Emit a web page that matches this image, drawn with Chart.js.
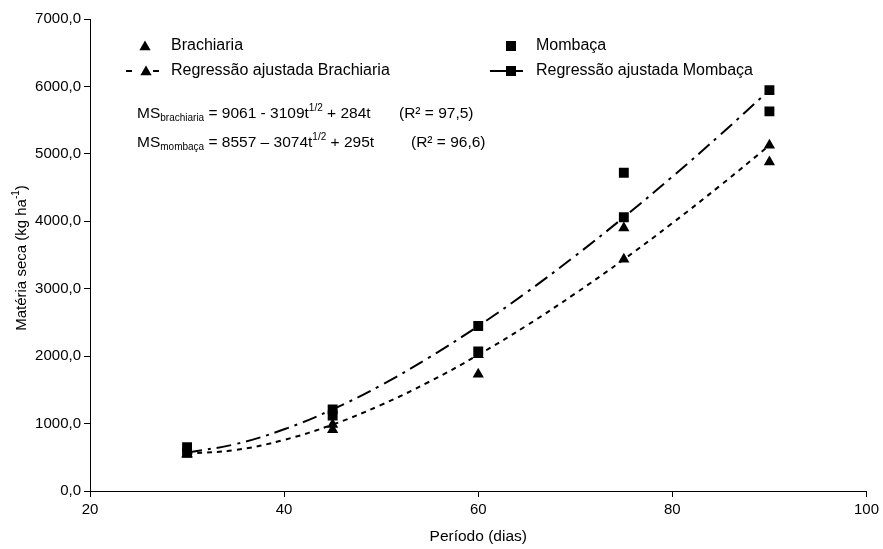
<!DOCTYPE html>
<html>
<head>
<meta charset="utf-8">
<script src="https://cdn.jsdelivr.net/npm/chart.js@4/dist/chart.umd.min.js"></script>
<style>
  html, body { margin: 0; padding: 0; background: #fff; }
  #wrap { width: 883px; height: 549px; position: relative; }
</style>
</head>
<body>
<div id="wrap"><canvas id="c" width="883" height="549"></canvas></div>
<script>
// ---- data ----
const periodo = [30, 45, 60, 75, 90];
const brachiaria = [540, 910, 1730, 3900, 4880];
const mombaca = [650, 1120, 2070, 4720, 5630];

const periodoCurva = [30, 35, 40, 45, 50, 55, 60, 65, 70, 75, 80, 85, 90];
const regBrachiaria = [552, 608, 758, 985, 1277, 1624, 2019, 2455, 2929, 3436, 3973, 4538, 5126];
const regMombaca = [570, 696, 915, 1211, 1570, 1985, 2446, 2948, 3488, 4060, 4662, 5291, 5945];

const xTicks = [20, 40, 60, 80, 100];
const yTicks = [0, 1000, 2000, 3000, 4000, 5000, 6000, 7000];

const legendLabels = ['Brachiaria', 'Mombaça', 'Regressão ajustada Brachiaria', 'Regressão ajustada Mombaça'];
const xTitle = 'Período (dias)';
const yTitle = 'Matéria seca (kg ha';

const FONT = '"Liberation Sans", Arial, sans-serif';

function pts(xs, ys) { return xs.map((x, i) => ({ x: x, y: ys[i] })); }
function markerAt(ctx) {
  const v = ctx.raw;
  return v && periodo.includes(v.x) ? 6.5 : 0;
}
function markerAtSq(ctx) {
  const v = ctx.raw;
  return v && periodo.includes(v.x) ? 7 : 0;
}

const BRA_DASH = [5, 5];
const MOM_DASH = [15, 6, 3, 6];

const overlay = {
  id: 'overlay',
  afterDraw(chart) {
    const ctx = chart.ctx;
    const ca = chart.chartArea;
    ctx.save();
    ctx.fillStyle = '#000';
    ctx.strokeStyle = '#000';

    // axis titles
    ctx.font = '15.5px ' + FONT;
    ctx.textBaseline = 'middle';
    ctx.textAlign = 'center';
    ctx.fillText(xTitle, (ca.left + ca.right) / 2, 537);

    // y title with superscript
    ctx.save();
    ctx.translate(22, 258);
    ctx.rotate(-Math.PI / 2);
    ctx.font = '15px ' + FONT;
    const w1 = ctx.measureText(yTitle).width;
    ctx.font = '10px ' + FONT;
    const w2 = ctx.measureText('-1').width;
    ctx.font = '15px ' + FONT;
    const w3 = ctx.measureText(')').width;
    let x0 = -(w1 + w2 + w3) / 2;
    ctx.textAlign = 'left';
    ctx.fillText(yTitle, x0, 0);
    ctx.font = '10px ' + FONT;
    ctx.fillText('-1', x0 + w1, -6);
    ctx.font = '15px ' + FONT;
    ctx.fillText(')', x0 + w1 + w2, 0);
    ctx.restore();

    // legend
    const drawTri = (x, y, r) => {
      ctx.beginPath();
      ctx.moveTo(x, y - r);
      ctx.lineTo(x + r * Math.sin(2 * Math.PI / 3), y - r * Math.cos(2 * Math.PI / 3));
      ctx.lineTo(x + r * Math.sin(4 * Math.PI / 3), y - r * Math.cos(4 * Math.PI / 3));
      ctx.closePath();
      ctx.fill();
    };
    const drawSq = (x, y, s) => { ctx.fillRect(x - s / 2, y - s / 2, s, s); };
    const seg = (x1, x2, y) => {
      ctx.save();
      ctx.lineWidth = 2;
      ctx.beginPath();
      ctx.moveTo(x1, y); ctx.lineTo(x2, y); ctx.stroke();
      ctx.restore();
    };
    ctx.font = '16px ' + FONT;
    ctx.textAlign = 'left';
    ctx.textBaseline = 'middle';
    const r1 = 46, r2 = 71;
    drawTri(145, r1 + 1, 6.5);
    ctx.fillText(legendLabels[0], 171, r1);
    drawSq(511, r1, 10);
    ctx.fillText(legendLabels[1], 536, r1);
    seg(126, 132, r2);
    drawTri(146, r2 + 1, 6.5);
    seg(153, 159, r2);
    ctx.fillText(legendLabels[2], 171, r2);
    seg(490, 512, r2);
    drawSq(511, r2, 10);
    seg(516, 523, r2);
    ctx.fillText(legendLabels[3], 536, r2);

    // equations
    const eq = (y, sub, a, b, rtxt, rx) => {
      let x = 137;
      ctx.font = '15.5px ' + FONT;
      ctx.fillText('MS', x, y); x += ctx.measureText('MS').width;
      ctx.font = '10px ' + FONT;
      ctx.fillText(sub, x, y + 4); x += ctx.measureText(sub).width;
      ctx.font = '15.5px ' + FONT;
      ctx.fillText(a, x, y); x += ctx.measureText(a).width;
      ctx.font = '10px ' + FONT;
      ctx.fillText('1/2', x, y - 6); x += ctx.measureText('1/2').width;
      ctx.font = '15.5px ' + FONT;
      ctx.fillText(b, x, y);
      ctx.fillText(rtxt, rx, y);
    };
    eq(114, 'brachiaria', ' = 9061 - 3109t', ' + 284t', '(R² = 97,5)', 399);
    eq(143, 'mombaça', ' = 8557 – 3074t', ' + 295t', '(R² = 96,6)', 411);
    ctx.restore();
  }
};

new Chart(document.getElementById('c'), {
  type: 'scatter',
  data: {
    datasets: [
      {
        label: legendLabels[2],
        data: pts(periodoCurva, regBrachiaria),
        showLine: true,
        borderColor: '#000', backgroundColor: '#000',
        borderWidth: 2, borderDash: BRA_DASH,
        tension: 0.4, pointStyle: 'triangle',
        pointRadius: markerAt, pointBorderWidth: 0
      },
      {
        label: legendLabels[3],
        data: pts(periodoCurva, regMombaca),
        showLine: true,
        borderColor: '#000', backgroundColor: '#000',
        borderWidth: 2, borderDash: MOM_DASH,
        tension: 0.4, pointStyle: 'rect',
        pointRadius: markerAtSq, pointBorderWidth: 0
      },
      {
        label: legendLabels[0],
        data: pts(periodo, brachiaria),
        showLine: false,
        borderColor: '#000', backgroundColor: '#000',
        pointStyle: 'triangle', pointRadius: 6.5, pointBorderWidth: 0
      },
      {
        label: legendLabels[1],
        data: pts(periodo, mombaca),
        showLine: false,
        borderColor: '#000', backgroundColor: '#000',
        pointStyle: 'rect', pointRadius: 7, pointBorderWidth: 0
      }
    ]
  },
  options: {
    responsive: false,
    animation: false,
    devicePixelRatio: 1,
    layout: { padding: { top: 19, right: 14, left: 0, bottom: 0 } },
    plugins: { legend: { display: false }, tooltip: { enabled: false } },
    scales: {
      x: {
        type: 'linear', min: 20, max: 100,
        afterFit(s) { s.height = 58; },
        afterBuildTicks(s) { s.ticks = xTicks.map(v => ({ value: v })); },
        border: { color: '#000', width: 1 },
        grid: { drawOnChartArea: false, drawTicks: true, tickLength: 6, color: '#000' },
        ticks: { color: '#000', padding: 4, font: { family: FONT, size: 15 }, maxRotation: 0 }
      },
      y: {
        type: 'linear', min: 0, max: 7000,
        afterFit(s) { s.width = 90; },
        afterBuildTicks(s) { s.ticks = yTicks.map(v => ({ value: v })); },
        border: { color: '#000', width: 1 },
        grid: { drawOnChartArea: false, drawTicks: true, tickLength: 6, color: '#000' },
        ticks: {
          color: '#000', padding: 3, font: { family: FONT, size: 15 },
          callback: v => v.toFixed(1).replace('.', ',')
        }
      }
    }
  },
  plugins: [overlay]
});
</script>
</body>
</html>
